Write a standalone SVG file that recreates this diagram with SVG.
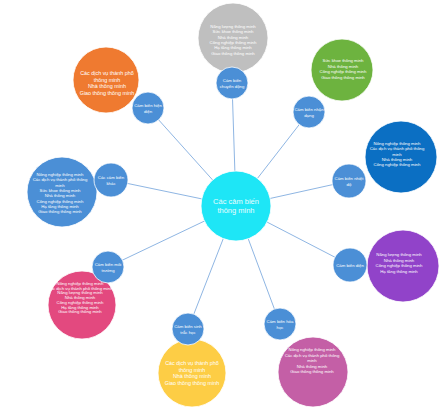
<svg xmlns="http://www.w3.org/2000/svg" width="444" height="410" viewBox="0 0 444 410">
<style>
.big{stroke:#ffffff;stroke-width:0.8}
.sm{fill:#4b8fd6;stroke:#ffffff;stroke-width:0.8}
.t{font-family:"Liberation Sans",Arial,sans-serif;fill:#ffffff;text-anchor:middle}
.bt{font-size:4.3px}
.lt{font-size:5.4px}
.st{font-size:4.3px}
.ct{font-size:7.5px;fill:#e8fdff}
.c line{stroke:#8fb6e3;stroke-width:1}
</style>
<rect width="444" height="410" fill="#ffffff"/>
<g id="connectors" class="c">
<line x1="236" y1="206" x2="232" y2="83"/>
<line x1="236" y1="206" x2="309" y2="112"/>
<line x1="236" y1="206" x2="349" y2="181"/>
<line x1="236" y1="206" x2="350" y2="265"/>
<line x1="236" y1="206" x2="280" y2="324"/>
<line x1="236" y1="206" x2="188" y2="329"/>
<line x1="236" y1="206" x2="108" y2="267"/>
<line x1="236" y1="206" x2="111" y2="180"/>
<line x1="236" y1="206" x2="148" y2="108"/>
</g>
<g id="n-center">
<circle cx="236" cy="206" r="35" fill="#1ee6f6" class="big"/>
<text class="t ct" x="236" y="204">Các cảm biến</text>
<text class="t ct" x="236" y="213">thông minh</text>
</g>
<g id="n-top-big">
<circle cx="233" cy="38" r="35" fill="#bfbfbf" class="big"/>
<text class="t bt" x="233" y="28">Năng lượng thông minh</text>
<text class="t bt" x="233" y="33.3">Sức khỏe thông minh</text>
<text class="t bt" x="233" y="38.6">Nhà thông minh</text>
<text class="t bt" x="233" y="43.9">Công nghiệp thông minh</text>
<text class="t bt" x="233" y="49.2">Hạ tầng thông minh</text>
<text class="t bt" x="233" y="54.5">Giao thông thông minh</text>
</g>
<g id="n-top-small">
<circle cx="232" cy="83" r="16" class="sm"/>
<text class="t st" x="232" y="82">Cảm biến</text>
<text class="t st" x="232" y="87.5">chuyển động</text>
</g>
<g id="n-tr-big">
<circle cx="342" cy="70" r="31" fill="#6db33f" class="big"/>
<text class="t bt" x="343" y="62">Sức khỏe thông minh</text>
<text class="t bt" x="343" y="67.5">Nhà thông minh</text>
<text class="t bt" x="343" y="73">Công nghiệp thông minh</text>
<text class="t bt" x="343" y="78.5">Giao thông thông minh</text>
</g>
<g id="n-tr-small">
<circle cx="309" cy="112" r="16" class="sm"/>
<text class="t st" x="309" y="111">Cảm biến nhận</text>
<text class="t st" x="309" y="116.5">dạng</text>
</g>
<g id="n-r-big">
<circle cx="401" cy="157" r="36" fill="#0b6fc3" class="big"/>
<text class="t bt" x="397" y="145">Nông nghiệp thông minh</text>
<text class="t bt" x="397" y="150.3">Các dịch vụ thành phố thông</text>
<text class="t bt" x="397" y="155.6">minh</text>
<text class="t bt" x="397" y="160.9">Nhà thông minh</text>
<text class="t bt" x="397" y="166.2">Công nghiệp thông minh</text>
</g>
<g id="n-r-small">
<circle cx="349" cy="181" r="17" class="sm"/>
<text class="t st" x="349" y="180">Cảm biến nhiệt</text>
<text class="t st" x="349" y="185.5">độ</text>
</g>
<g id="n-pr-big">
<circle cx="403" cy="266" r="36" fill="#9143c9" class="big"/>
<text class="t bt" x="399" y="256">Năng lượng thông minh</text>
<text class="t bt" x="399" y="261.5">Nhà thông minh</text>
<text class="t bt" x="399" y="267">Công nghiệp thông minh</text>
<text class="t bt" x="399" y="272.5">Hạ tầng thông minh</text>
</g>
<g id="n-pr-small">
<circle cx="350" cy="265" r="17" class="sm"/>
<text class="t st" x="350" y="266.5">Cảm biến điện</text>
</g>
<g id="n-br-big">
<circle cx="313" cy="372" r="35" fill="#c45fa6" class="big"/>
<text class="t bt" x="312" y="351">Nông nghiệp thông minh</text>
<text class="t bt" x="312" y="356.5">Các dịch vụ thành phố thông</text>
<text class="t bt" x="312" y="362">minh</text>
<text class="t bt" x="312" y="367.5">Nhà thông minh</text>
<text class="t bt" x="312" y="373">Giao thông thông minh</text>
</g>
<g id="n-br-small">
<circle cx="280" cy="324" r="16" class="sm"/>
<text class="t st" x="280" y="323">Cảm biến hóa</text>
<text class="t st" x="280" y="328.5">học</text>
</g>
<g id="n-b-big">
<circle cx="192" cy="373" r="34" fill="#fdcd45" class="big"/>
<text class="t lt" x="192" y="365">Các dịch vụ thành phố</text>
<text class="t lt" x="192" y="371.5">thông minh</text>
<text class="t lt" x="192" y="378">Nhà thông minh</text>
<text class="t lt" x="192" y="384.5">Giao thông thông minh</text>
</g>
<g id="n-b-small">
<circle cx="188" cy="329" r="16" class="sm"/>
<text class="t st" x="188" y="328">Cảm biến sinh</text>
<text class="t st" x="188" y="333.5">trắc học</text>
</g>
<g id="n-bl-big">
<circle cx="82" cy="305" r="34" fill="#e3497f" class="big"/>
<text class="t bt" x="80" y="285">Nông nghiệp thông minh</text>
<text class="t bt" x="80" y="289.7">Các dịch vụ thành phố thông minh</text>
<text class="t bt" x="80" y="294.4">Năng lượng thông minh</text>
<text class="t bt" x="80" y="299.1">Nhà thông minh</text>
<text class="t bt" x="80" y="303.8">Công nghiệp thông minh</text>
<text class="t bt" x="80" y="308.5">Hạ tầng thông minh</text>
<text class="t bt" x="80" y="313.2">Giao thông thông minh</text>
</g>
<g id="n-bl-small">
<circle cx="108" cy="267" r="16" class="sm"/>
<text class="t st" x="108" y="266">Cảm biến môi</text>
<text class="t st" x="108" y="271.5">trường</text>
</g>
<g id="n-l-big">
<circle cx="62" cy="192" r="35" fill="#4b8fd6" class="big"/>
<text class="t bt" x="60" y="176">Nông nghiệp thông minh</text>
<text class="t bt" x="60" y="181.3">Các dịch vụ thành phố thông</text>
<text class="t bt" x="60" y="186.6">minh</text>
<text class="t bt" x="60" y="191.9">Sức khỏe thông minh</text>
<text class="t bt" x="60" y="197.2">Nhà thông minh</text>
<text class="t bt" x="60" y="202.5">Công nghiệp thông minh</text>
<text class="t bt" x="60" y="207.8">Hạ tầng thông minh</text>
<text class="t bt" x="60" y="213.1">Giao thông thông minh</text>
</g>
<g id="n-l-small">
<circle cx="111" cy="180" r="17" class="sm"/>
<text class="t st" x="111" y="179">Các cảm biến</text>
<text class="t st" x="111" y="184.5">khác</text>
</g>
<g id="n-tl-big">
<circle cx="106" cy="80" r="33" fill="#ef7a30" class="big"/>
<text class="t lt" x="107" y="75">Các dịch vụ thành phố</text>
<text class="t lt" x="107" y="81.5">thông minh</text>
<text class="t lt" x="107" y="88">Nhà thông minh</text>
<text class="t lt" x="107" y="94.5">Giao thông thông minh</text>
</g>
<g id="n-tl-small">
<circle cx="148" cy="108" r="16" class="sm"/>
<text class="t st" x="148" y="107">Cảm biến hiện</text>
<text class="t st" x="148" y="112.5">diện</text>
</g>
</svg>
